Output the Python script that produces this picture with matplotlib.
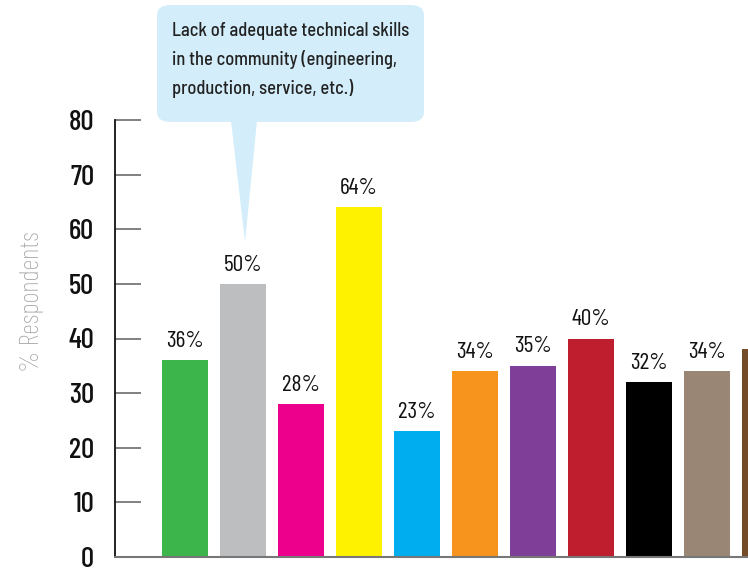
import matplotlib
matplotlib.use("Agg")
import matplotlib.pyplot as plt
from matplotlib import font_manager as fm
from matplotlib.patches import FancyBboxPatch, Polygon

values = [36, 50, 28, 64, 23, 34, 35, 40, 32, 34, 38]
labels = ["36%", "50%", "28%", "64%", "23%", "34%", "35%", "40%", "32%", "34%", ""]
colors = ["#3cb54a", "#bcbec0", "#ec008c", "#fff200", "#00aeef", "#f7941d",
          "#7f3f98", "#be1e2d", "#000000", "#998675", "#754c29"]
yticks = [0, 10, 20, 30, 40, 50, 60, 70, 80]
callout_text = ("Lack of adequate technical skills\n"
                "in the community (engineering,\n"
                "production, service, etc.)")

installed = {f.name for f in fm.fontManager.ttflist}


def pick(cands):
    return next((c for c in cands if c in installed), "DejaVu Sans")


semi = pick(["Barlow Semi Condensed", "Barlow Condensed", "Roboto Condensed", "Roboto"])
cond = pick(["Barlow Condensed", "Barlow Semi Condensed", "Roboto Condensed", "Roboto"])
plt.rcParams['font.family'] = [semi, 'DejaVu Sans']

W, H = 748, 573
fig = plt.figure(figsize=(W / 100, H / 100), dpi=100)
ax_left, ax_right = 115, 748
ax_top, ax_bottom = 120, 557
ax = fig.add_axes([ax_left / W, (H - ax_bottom) / H,
                   (ax_right - ax_left) / W, (ax_bottom - ax_top) / H])

x = list(range(len(values)))
ax.bar(x, values, width=46 / 58, color=colors, zorder=2)
for xi, v, lab in zip(x, values, labels):
    if lab:
        ax.annotate(lab, (xi, v), xytext=(0, 6), textcoords="offset points",
                    ha="center", va="bottom", fontsize=17, color="#111111",
                    family=[cond, 'DejaVu Sans'])

ax.set_xlim(-1.207, 9.707)
ax.set_ylim(0, 80)
ax.set_yticks(yticks)
ax.set_xticks([])
ax.tick_params(axis="y", direction="in", length=19, width=1.3, color="#777777",
               labelsize=21, pad=15, labelcolor="#111111")
for t in ax.get_yticklabels():
    t.set_fontweight("medium")
    t.set_family([cond, 'DejaVu Sans'])
for s in ["top", "right"]:
    ax.spines[s].set_visible(False)
ax.spines["left"].set_color("#111111")
ax.spines["left"].set_linewidth(1.3)
ax.spines["bottom"].set_color("#777777")
ax.spines["bottom"].set_linewidth(1.5)

fig.text(32 / W, 1 - 302 / H, "% Respondents", rotation=90, ha="center",
         va="center", fontsize=19.5, color="#a0a0a0", fontweight="light",
         family=[cond, 'DejaVu Sans'])

# callout
bx0, by0, bx1, by1 = 157, 5, 424, 122
box = FancyBboxPatch((bx0 / W, 1 - by1 / H), (bx1 - bx0) / W, (by1 - by0) / H,
                     boxstyle="round,pad=0,rounding_size=0.018",
                     transform=fig.transFigure, facecolor="#d3eefa",
                     edgecolor="none", zorder=5)
fig.patches.append(box)
tri = Polygon([(231 / W, 1 - 121 / H), (257 / W, 1 - 121 / H), (245 / W, 1 - 242 / H)],
              closed=True, transform=fig.transFigure, facecolor="#d3eefa",
              edgecolor="none", zorder=5)
fig.patches.append(tri)
fig.text(172 / W, 1 - 22 / H, callout_text, ha="left", va="top", fontsize=13.3,
         color="#222222", linespacing=1.66, fontweight="medium", zorder=6)

fig.savefig("out.png", dpi=100)
